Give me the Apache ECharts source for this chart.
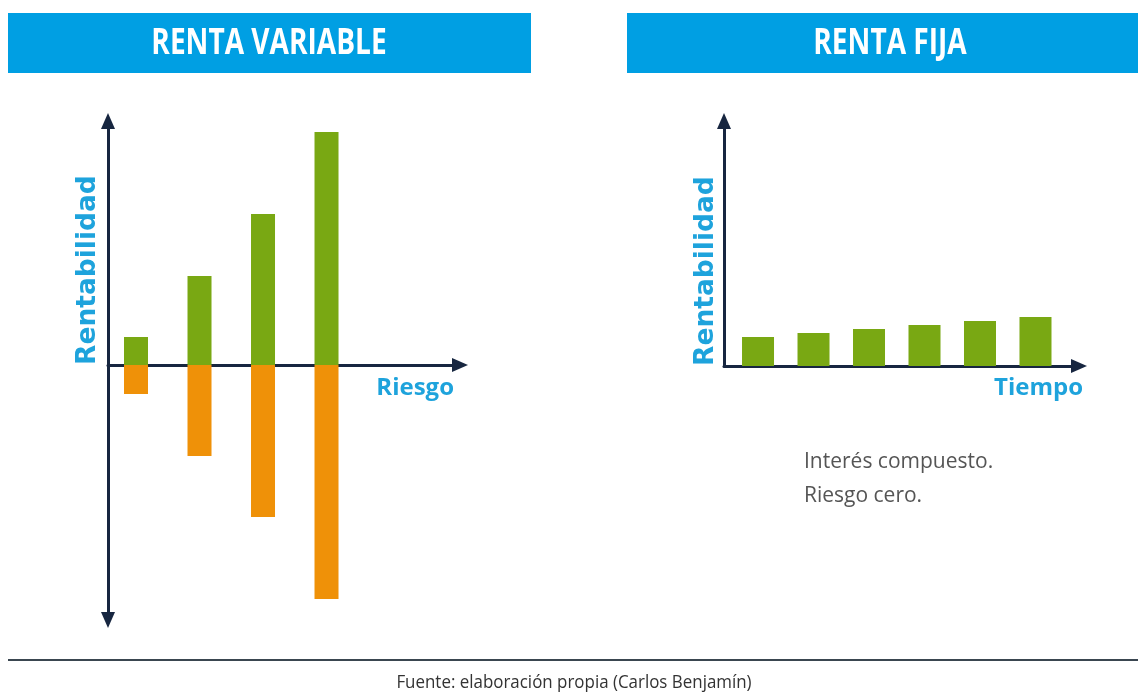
<!DOCTYPE html>
<html>
<head>
<meta charset="utf-8">
<script src="https://cdn.jsdelivr.net/npm/echarts@6/dist/echarts.min.js"></script>
<style>
  html, body { margin: 0; padding: 0; background: #fff; }
  #chart { width: 1138px; height: 693px; }
</style>
</head>
<body>
<div id="chart"></div>
<script>
// --- data (pixel-ish units) ---
var riesgoPos = [1, 2, 3, 4];
var ganancia = [28, 89, 151, 233];       // green, renta variable
var perdida = [-29, -91, -152, -234];    // orange, renta variable
var tiempoPos = [1, 2, 3, 4, 5, 6];
var rentaFija = [29, 33, 37, 41, 45, 49];
var titulos = ['RENTA VARIABLE', 'RENTA FIJA'];

var azul = '#009fe3';
var azulTexto = '#1ea3dc';
var navy = '#172640';
var verde = '#79a813';
var naranja = '#ef9108';

var chart = echarts.init(document.getElementById('chart'));

function pairs(xs, ys) {
    return xs.map(function (x, i) { return [x, ys[i]]; });
}

var axisLine = function (sym) {
    return {
        show: true,
        onZero: true,
        symbol: sym,
        symbolSize: [14, 16],
        lineStyle: { color: navy, width: 3 }
    };
};

var option = {
    animation: false,
    grid: [
        { left: 108, top: 121, right: 1138 - 460, bottom: 693 - 620 },
        { left: 724, top: 121, right: 1138 - 1079, bottom: 693 - 366 }
    ],
    xAxis: [
        {
            gridIndex: 0, type: 'value', min: 0.559, max: 6.102,
            axisLine: axisLine(['none', 'triangle']),
            axisTick: { show: false }, axisLabel: { show: false }, splitLine: { show: false }
        },
        {
            gridIndex: 1, type: 'value', min: 0.387, max: 6.784,
            axisLine: axisLine(['none', 'triangle']),
            axisTick: { show: false }, axisLabel: { show: false }, splitLine: { show: false }
        }
    ],
    yAxis: [
        {
            gridIndex: 0, type: 'value', min: -255, max: 244,
            axisLine: { show: true, onZero: false, symbol: ['triangle', 'triangle'], symbolSize: [14, 16],
                lineStyle: { color: navy, width: 3 } },
            axisTick: { show: false }, axisLabel: { show: false }, splitLine: { show: false }
        },
        {
            gridIndex: 1, type: 'value', min: 0, max: 245,
            axisLine: { show: true, onZero: false, symbol: ['none', 'triangle'], symbolSize: [14, 16],
                lineStyle: { color: navy, width: 3 } },
            axisTick: { show: false }, axisLabel: { show: false }, splitLine: { show: false }
        }
    ],
    series: [
        {
            type: 'bar', xAxisIndex: 0, yAxisIndex: 0, stack: 'rv', barWidth: 24,
            itemStyle: { color: verde }, z: 1,
            data: pairs(riesgoPos, ganancia)
        },
        {
            type: 'bar', xAxisIndex: 0, yAxisIndex: 0, stack: 'rv', barWidth: 24,
            itemStyle: { color: naranja }, z: 1,
            data: pairs(riesgoPos, perdida)
        },
        {
            type: 'bar', xAxisIndex: 1, yAxisIndex: 1, barWidth: 32,
            itemStyle: { color: verde }, z: 1,
            data: pairs(tiempoPos, rentaFija)
        }
    ],
    graphic: [
        // cabeceras
        { type: 'rect', shape: { x: 8, y: 13, width: 523, height: 60 }, style: { fill: azul } },
        { type: 'rect', shape: { x: 627, y: 13, width: 511, height: 60 }, style: { fill: azul } },
        { type: 'text', x: 269, y: 44, scaleX: 0.78, style: { text: titulos[0], fill: '#fff',
            font: 'bold 36px "Open Sans", sans-serif',
            align: 'center', verticalAlign: 'middle' } },
        { type: 'text', x: 890, y: 44, scaleX: 0.78, style: { text: titulos[1], fill: '#fff',
            font: 'bold 36px "Open Sans", sans-serif',
            align: 'center', verticalAlign: 'middle' } },
        // nombres de ejes
        { type: 'text', x: 88, y: 365, rotation: Math.PI / 2, style: { text: 'Rentabilidad', fill: azulTexto,
            font: 'bold 26.5px "DejaVu Sans", sans-serif', align: 'left', verticalAlign: 'middle' } },
        { type: 'text', x: 706, y: 366, rotation: Math.PI / 2, style: { text: 'Rentabilidad', fill: azulTexto,
            font: 'bold 26.5px "DejaVu Sans", sans-serif', align: 'left', verticalAlign: 'middle' } },
        { type: 'text', x: 454, y: 388, style: { text: 'Riesgo', fill: azulTexto,
            font: 'bold 24px "Open Sans", sans-serif', align: 'right', verticalAlign: 'middle' } },
        { type: 'text', x: 1083, y: 388, style: { text: 'Tiempo', fill: azulTexto,
            font: 'bold 24px "Open Sans", sans-serif', align: 'right', verticalAlign: 'middle' } },
        // nota
        { type: 'text', x: 804, y: 445, style: { text: 'Interés compuesto.\nRiesgo cero.', fill: '#555',
            font: '21px "Open Sans", sans-serif', lineHeight: 34, align: 'left', verticalAlign: 'top' } },
        // pie
        { type: 'line', shape: { x1: 8, y1: 660, x2: 1138, y2: 660 }, style: { stroke: '#3a4650', lineWidth: 2 } },
        { type: 'text', x: 574, y: 683, scaleX: 0.94, style: { text: 'Fuente: elaboración propia (Carlos Benjamín)', fill: '#333',
            font: '18px "Open Sans", sans-serif',
            align: 'center', verticalAlign: 'middle' } }
    ]
};

chart.setOption(option);
</script>
</body>
</html>
